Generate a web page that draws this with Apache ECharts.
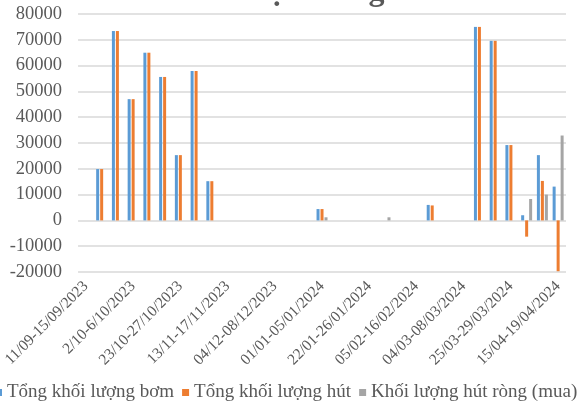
<!DOCTYPE html>
<html>
<head>
<meta charset="utf-8">
<script src="https://cdn.jsdelivr.net/npm/echarts@6/dist/echarts.min.js"></script>
<style>
  html, body { margin: 0; padding: 0; background: #ffffff; }
  #chart { width: 577px; height: 406px; }
</style>
</head>
<body>
<div id="chart"></div>
<script>
// Weekly periods on the category axis
const weeks = [
  '11/09-15/09/2023', '18/09-22/09/2023', '25/09-29/09/2023', '2/10-6/10/2023',
  '9/10-13/10/2023', '16/10-20/10/2023', '23/10-27/10/2023', '30/10-03/11/2023',
  '06/11-10/11/2023', '13/11-17/11/2023', '20/11-24/11/2023', '27/11-01/12/2023',
  '04/12-08/12/2023', '11/12-15/12/2023', '18/12-29/12/2023', '01/01-05/01/2024',
  '08/01-12/01/2024', '15/01-19/01/2024', '22/01-26/01/2024', '29/01-31/01/2024',
  '01/02-02/02/2024', '05/02-16/02/2024', '19/02-23/02/2024', '26/02-01/03/2024',
  '04/03-08/03/2024', '11/03-15/03/2024', '18/03-22/03/2024', '25/03-29/03/2024',
  '01/04-05/04/2024', '08/04-12/04/2024', '15/04-19/04/2024'
];

// Weekly volumes
const pumped = [
  0, 19900, 73400, 47000, 65000, 55600, 25300, 57900,
  15200, 0, 0, 0, 0, 0, 0, 4400,
  0, 0, 0, 0, 0, 0, 6000, 0,
  0, 75000, 69600, 29200, 2000, 25300, 13100
];
const absorbed = [
  0, 19900, 73400, 47000, 65000, 55600, 25300, 57900,
  15200, 0, 0, 0, 0, 0, 0, 4400,
  0, 0, 0, 0, 0, 0, 5800, 0,
  0, 75000, 69600, 29200, -6300, 15300, -19700
];
const netAbsorbed = [
  0, 0, 0, 0, 0, 0, 0, 0,
  0, 0, 0, 0, 0, 0, 0, 1200,
  0, 0, 0, 1200, 0, 0, 0, 0,
  0, 0, 0, 0, 8300, 10000, 32900
];

const yMin = -20000, yMax = 80000, yStep = 10000;

const seriesNames = ['Tổng khối lượng bơm', 'Tổng khối lượng hút', 'Khối lượng hút ròng (mua)'];
const seriesColors = ['#5B9BD5', '#ED7D31', '#A5A5A5'];
const seriesData = [pumped, absorbed, netAbsorbed];

const serif = '"Liberation Serif", "Times New Roman", "DejaVu Serif", serif';
const textColor = '#595959';

const chart = echarts.init(document.getElementById('chart'), null, { renderer: 'canvas' });

chart.setOption({
  animation: false,
  backgroundColor: '#ffffff',
  title: {
    text: 'Diễn biến thị trường mở',
    left: 100,
    top: -29,
    textStyle: { fontFamily: serif, fontSize: 32, fontWeight: 'bold', color: textColor }
  },
  grid: { left: 78, right: 11, top: 14, bottom: 134, containLabel: false },
  legend: {
    left: -10,
    top: 378,
    width: 800,
    itemWidth: 7,
    itemHeight: 7,
    itemGap: 8,
    icon: 'rect',
    data: seriesNames,
    textStyle: { fontFamily: serif, fontSize: 19, color: textColor }
  },
  xAxis: {
    type: 'category',
    data: weeks,
    position: 'bottom',
    axisLine: { show: false, onZero: false },
    axisTick: { show: false },
    axisLabel: {
      interval: 2,
      rotate: 45,
      margin: 12,
      fontFamily: serif,
      fontSize: 15.5,
      color: textColor
    },
    splitLine: { show: false }
  },
  yAxis: {
    type: 'value',
    min: yMin,
    max: yMax,
    interval: yStep,
    axisLine: { show: false },
    axisTick: { show: false },
    axisLabel: {
      margin: 16,
      fontFamily: serif,
      fontSize: 18.5,
      color: textColor,
      formatter: (v) => String(v)
    },
    splitLine: { lineStyle: { color: '#d9d9d9', width: 1.5 } }
  },
  series: seriesNames.map((name, i) => ({
    name: name,
    type: 'bar',
    data: seriesData[i],
    barWidth: 3,
    barGap: '33%',
    itemStyle: { color: seriesColors[i] }
  }))
});
</script>
</body>
</html>
